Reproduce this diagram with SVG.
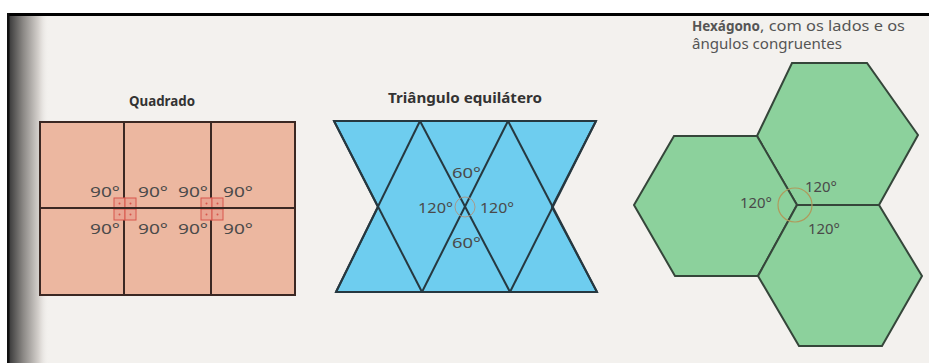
<svg xmlns="http://www.w3.org/2000/svg" width="929" height="363" viewBox="0 0 929 363">
  <defs>
    <linearGradient id="shadow" x1="0" y1="0" x2="1" y2="0">
      <stop offset="0" stop-color="#3a3a3a"/>
      <stop offset="0.35" stop-color="#8a8784"/>
      <stop offset="0.75" stop-color="#d6d2ce"/>
      <stop offset="1" stop-color="#f3f1ee" stop-opacity="0"/>
    </linearGradient>
    <style>
      .lbl { font-family: "Noto Sans", "Open Sans", sans-serif; font-size: 14px; fill: #4a4a4a; }
      .ttl { font-family: "Noto Sans", "Open Sans", sans-serif; font-size: 13.5px; font-weight: bold; fill: #333; }
      .txt { font-family: "Noto Sans", "Open Sans", sans-serif; font-size: 13.5px; fill: #555; }
      .sq { fill: #ecb7a0; stroke: #3b2823; stroke-width: 2; }
      .sqline { stroke: #3b2823; stroke-width: 2; fill: none; }
      .tri { fill: #6ecdef; stroke: #263840; stroke-width: 2; stroke-linejoin: miter; }
      .triline { stroke: #263840; stroke-width: 2; fill: none; }
      .hex { fill: #8cd19c; stroke: #35463a; stroke-width: 2; stroke-linejoin: miter; }
      .mark { fill: #e9a593; stroke: #d8564c; stroke-width: 1; }
      .dot { fill: #d8564c; }
    </style>
  </defs>

  <!-- page -->
  <rect x="0" y="0" width="929" height="363" fill="#ffffff"/>
  <rect x="7" y="13" width="922" height="350" fill="#f3f1ee"/>
  <rect x="9" y="16" width="40" height="347" fill="url(#shadow)"/>
  <rect x="7" y="13" width="922" height="3" fill="#000"/>
  <rect x="7" y="13" width="2.5" height="350" fill="#111"/>

  <!-- Quadrado -->
  <g id="quadrado">
    <text class="ttl" x="162" y="106" text-anchor="middle" textLength="66" lengthAdjust="spacingAndGlyphs">Quadrado</text>
    <rect class="sq" x="40" y="122" width="255" height="173"/>
    <line class="sqline" x1="124" y1="122" x2="124" y2="295"/>
    <line class="sqline" x1="211" y1="122" x2="211" y2="295"/>
    <g id="marks-1">
      <rect class="mark" x="114" y="198" width="11" height="11"/>
      <rect class="mark" x="125" y="198" width="11" height="11"/>
      <rect class="mark" x="114" y="209" width="11" height="11"/>
      <rect class="mark" x="125" y="209" width="11" height="11"/>
      <circle class="dot" cx="119.5" cy="203.5" r="1"/>
      <circle class="dot" cx="130.5" cy="203.5" r="1"/>
      <circle class="dot" cx="119.5" cy="214.5" r="1"/>
      <circle class="dot" cx="130.5" cy="214.5" r="1"/>
    </g>
    <g id="marks-2">
      <rect class="mark" x="201" y="198" width="11" height="11"/>
      <rect class="mark" x="212" y="198" width="11" height="11"/>
      <rect class="mark" x="201" y="209" width="11" height="11"/>
      <rect class="mark" x="212" y="209" width="11" height="11"/>
      <circle class="dot" cx="206.5" cy="203.5" r="1"/>
      <circle class="dot" cx="217.5" cy="203.5" r="1"/>
      <circle class="dot" cx="206.5" cy="214.5" r="1"/>
      <circle class="dot" cx="217.5" cy="214.5" r="1"/>
    </g>
    <line class="sqline" x1="40" y1="208" x2="295" y2="208"/>
    <text class="lbl" x="90" y="197" textLength="30" lengthAdjust="spacingAndGlyphs">90°</text>
    <text class="lbl" x="138" y="197" textLength="30" lengthAdjust="spacingAndGlyphs">90°</text>
    <text class="lbl" x="178" y="197" textLength="30" lengthAdjust="spacingAndGlyphs">90°</text>
    <text class="lbl" x="223" y="197" textLength="30" lengthAdjust="spacingAndGlyphs">90°</text>
    <text class="lbl" x="90" y="234" textLength="30" lengthAdjust="spacingAndGlyphs">90°</text>
    <text class="lbl" x="138" y="234" textLength="30" lengthAdjust="spacingAndGlyphs">90°</text>
    <text class="lbl" x="178" y="234" textLength="30" lengthAdjust="spacingAndGlyphs">90°</text>
    <text class="lbl" x="223" y="234" textLength="30" lengthAdjust="spacingAndGlyphs">90°</text>
  </g>

  <!-- Triângulo equilátero -->
  <g id="triangulo">
    <text class="ttl" x="465" y="103" text-anchor="middle" textLength="154" lengthAdjust="spacingAndGlyphs">Triângulo equilátero</text>
    <polygon class="tri" points="334,121 596,121 552,207 597,292 336,292 378,207"/>
    <line class="triline" x1="334" y1="121" x2="422" y2="292"/>
    <line class="triline" x1="420" y1="121" x2="336" y2="292"/>
    <line class="triline" x1="420" y1="121" x2="510" y2="292"/>
    <line class="triline" x1="508" y1="121" x2="422" y2="292"/>
    <line class="triline" x1="508" y1="121" x2="597" y2="292"/>
    <line class="triline" x1="596" y1="121" x2="510" y2="292"/>
    <circle cx="465" cy="207" r="10" fill="none" stroke="#a89a8a" stroke-width="1"/>
    <text class="lbl" x="452" y="178" textLength="29" lengthAdjust="spacingAndGlyphs">60°</text>
    <text class="lbl" x="418" y="213" textLength="35" lengthAdjust="spacingAndGlyphs">120°</text>
    <text class="lbl" x="480" y="213" textLength="34" lengthAdjust="spacingAndGlyphs">120°</text>
    <text class="lbl" x="452" y="248" textLength="29" lengthAdjust="spacingAndGlyphs">60°</text>
  </g>

  <!-- Hexágono -->
  <g id="hexagono">
    <text class="txt" x="692" y="31" font-weight="bold" fill="#333" textLength="68" lengthAdjust="spacingAndGlyphs">Hexágono</text>
    <text class="txt" x="760" y="31" textLength="145" lengthAdjust="spacingAndGlyphs">, com os lados e os</text>
    <text class="txt" x="692" y="49" textLength="150" lengthAdjust="spacingAndGlyphs">ângulos congruentes</text>
    <polygon class="hex" points="792,63 867,63 918,135 879,205 797,205 757,136"/>
    <polygon class="hex" points="674,136 757,136 797,205 758,276 675,276 634,205"/>
    <polygon class="hex" points="797,205 879,205 922,276 882,346 799,346 758,276"/>
    <circle cx="795" cy="205" r="17" fill="none" stroke="#b09a5c" stroke-width="1.2"/>
    <text class="lbl" x="805" y="192" textLength="32" lengthAdjust="spacingAndGlyphs">120°</text>
    <text class="lbl" x="740" y="208" textLength="32" lengthAdjust="spacingAndGlyphs">120°</text>
    <text class="lbl" x="808" y="234" textLength="32" lengthAdjust="spacingAndGlyphs">120°</text>
  </g>
</svg>
